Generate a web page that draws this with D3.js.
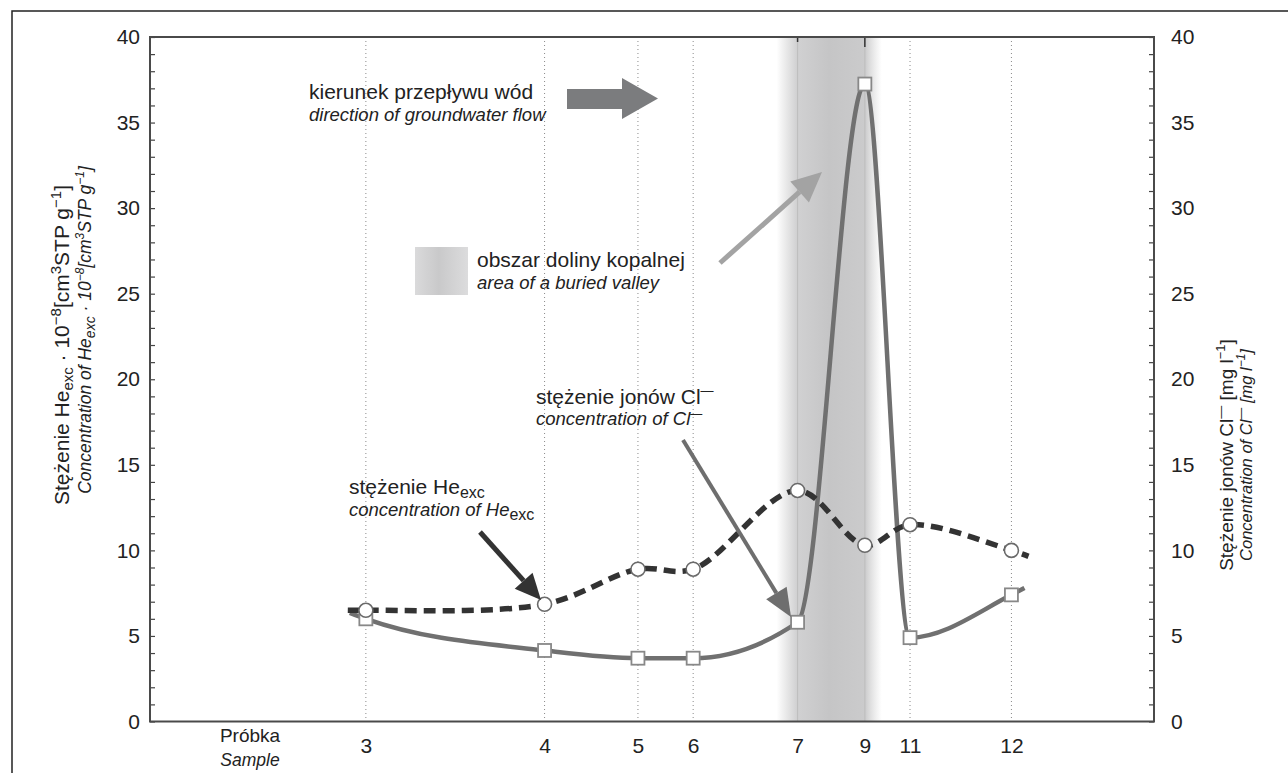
<!DOCTYPE html>
<html><head><meta charset="utf-8">
<script src="https://cdn.jsdelivr.net/npm/d3@7/dist/d3.min.js"></script>
<style>
body{margin:0;background:#fff;}
svg{display:block;}
text{font-family:"Liberation Sans",Arial,sans-serif;fill:#222;}
</style></head>
<body>
<svg id="chart" width="1288" height="773"></svg>
<script>
// ---- data ----
const samples = ["3","4","5","6","7","9","11","12"];
// relative distance of each sample along the profile (0–100)
const sampleDistance = [21.5, 39.3, 48.6, 54.1, 64.5, 71.2, 75.7, 85.8];
const heExc = [6.5, 6.85, 8.9, 8.9, 13.5, 10.3, 11.5, 10.0];
const chloride = [6.0, 4.15, 3.7, 3.7, 5.8, 37.25, 4.9, 7.4];
// curve run-in / run-out points [distance, value]
const heEnds = [[19.7, 6.5], [87.5, 9.65]];
const clEnds = [[19.9, 6.35], [87.1, 7.8]];
const yTicks = d3.range(0, 41, 1);
const valleyFrom = "7", valleyTo = "9";

// ---- layout ----
const svg = d3.select("#chart");
const L = 150, R = 1154, T = 37, B = 721.5;
const x = d3.scaleLinear().domain([0, 100]).range([L, R]);
const y = d3.scaleLinear().domain([0, 40]).range([B, T]);
const FONT = '"Liberation Sans",Arial,sans-serif';

const defs = svg.append("defs");
const g1 = defs.append("linearGradient").attr("id", "band").attr("x1", 0).attr("x2", 1).attr("y1", 0).attr("y2", 0);
[[0, "#d0d0d0", 0], [0.19, "#d1d1d2", 1], [0.5, "#c5c5c6", 1], [0.84, "#cbcbcc", 1], [1, "#d8d8d8", 0]]
  .forEach(s => g1.append("stop").attr("offset", s[0]).attr("stop-color", s[1]).attr("stop-opacity", s[2]));
const g2 = defs.append("linearGradient").attr("id", "leg").attr("x1", 0).attr("x2", 1).attr("y1", 0).attr("y2", 0);
[[0, "#dadadb"], [0.45, "#c9c9ca"], [1, "#dcdcdd"]]
  .forEach(s => g2.append("stop").attr("offset", s[0]).attr("stop-color", s[1]));

// outer frame
svg.append("path").attr("d", `M12,773 V11 H1288`).attr("fill", "none").attr("stroke", "#222").attr("stroke-width", 1.5);

// valley band
const i7 = samples.indexOf(valleyFrom), i9 = samples.indexOf(valleyTo);
const bx0 = x(sampleDistance[i7]) - 21, bx1 = x(sampleDistance[i9]) + 17;
svg.append("rect").attr("x", bx0).attr("y", T).attr("width", bx1 - bx0).attr("height", B - T).attr("fill", "url(#band)");

// sample gridlines
svg.append("g").selectAll("line").data(samples).join("line")
  .attr("x1", (d, i) => x(sampleDistance[i])).attr("x2", (d, i) => x(sampleDistance[i]))
  .attr("y1", T).attr("y2", B)
  .attr("stroke", d => (d === valleyFrom || d === valleyTo) ? "#bdbdbd" : "#8a8a8a")
  .attr("stroke-width", 1)
  .attr("stroke-dasharray", d => (d === valleyFrom || d === valleyTo) ? null : "1,3");

// top ticks at valley edges
svg.append("g").selectAll("line").data([[i7, 5], [i9, 10]]).join("line")
  .attr("x1", d => x(sampleDistance[d[0]])).attr("x2", d => x(sampleDistance[d[0]]))
  .attr("y1", T).attr("y2", d => T + d[1]).attr("stroke", "#333").attr("stroke-width", 1.5);

// axes
const fmt = d => d % 5 === 0 ? d : "";
const la = svg.append("g").attr("transform", `translate(${L},0)`)
  .call(d3.axisLeft(y).tickValues(yTicks).tickSizeInner(-5).tickSizeOuter(0).tickPadding(10).tickFormat(fmt));
const ra = svg.append("g").attr("transform", `translate(${R},0)`)
  .call(d3.axisRight(y).tickValues(yTicks).tickSizeInner(-5).tickSizeOuter(0).tickPadding(17).tickFormat(fmt));
[la, ra].forEach(a => {
  a.select(".domain").remove();
  a.selectAll(".tick line").attr("stroke", "#444").attr("stroke-width", 1.2);
  a.selectAll(".tick text").attr("font-size", 21).attr("fill", "#222").style("font-family", FONT);
});
const ba = svg.append("g").attr("transform", `translate(0,${B})`)
  .call(d3.axisBottom(x).tickValues(sampleDistance).tickSize(0).tickPadding(17).tickFormat((d, i) => samples[i]));
ba.select(".domain").remove();
ba.selectAll(".tick text").attr("font-size", 21).attr("fill", "#222").style("font-family", FONT);

// plot frame
svg.append("rect").attr("x", L).attr("y", T).attr("width", R - L).attr("height", B - T)
  .attr("fill", "none").attr("stroke", "#4a4a4a").attr("stroke-width", 2);

// lines
const clPts = [clEnds[0], ...sampleDistance.map((d, i) => [d, chloride[i]]), clEnds[1]];
const hePts = [heEnds[0], ...sampleDistance.map((d, i) => [d, heExc[i]]), heEnds[1]];
const lineCl = d3.line().x(d => x(d[0])).y(d => y(d[1])).curve(d3.curveMonotoneX);
const lineHe = d3.line().x(d => x(d[0])).y(d => y(d[1])).curve(d3.curveCatmullRom.alpha(0.5));
svg.append("path").attr("d", lineCl(clPts)).attr("fill", "none").attr("stroke", "#707070").attr("stroke-width", 4.5);
svg.append("path").attr("d", lineHe(hePts)).attr("fill", "none").attr("stroke", "#333").attr("stroke-width", 5.5)
  .attr("stroke-dasharray", "12,7");

// markers
svg.append("g").selectAll("rect").data(chloride).join("rect")
  .attr("x", (d, i) => x(sampleDistance[i]) - 6.5).attr("y", d => y(d) - 6.5)
  .attr("width", 13).attr("height", 13).attr("fill", "#fff").attr("stroke", "#888").attr("stroke-width", 1.8);
svg.append("g").selectAll("circle").data(heExc).join("circle")
  .attr("cx", (d, i) => x(sampleDistance[i])).attr("cy", d => y(d)).attr("r", 7)
  .attr("fill", "#fff").attr("stroke", "#6a6a6a").attr("stroke-width", 1.6);

// arrows
function arrow(x1, y1, x2, y2, color, w, hl, hw) {
  const a = Math.atan2(y2 - y1, x2 - x1);
  const bx = x2 - hl * Math.cos(a), by = y2 - hl * Math.sin(a);
  svg.append("line").attr("x1", x1).attr("y1", y1).attr("x2", bx).attr("y2", by)
    .attr("stroke", color).attr("stroke-width", w);
  const px = -Math.sin(a) * hw, py = Math.cos(a) * hw;
  svg.append("path").attr("d", `M${x2},${y2}L${bx + px},${by + py}L${bx - px},${by - py}Z`).attr("fill", color);
}
arrow(720, 263, 822, 172, "#a3a3a3", 5, 30, 14);
arrow(683, 440, 791, 617, "#6e6e6e", 4, 28, 12);
arrow(480, 532, 541, 600, "#333", 5, 26, 12);
// block arrow (flow direction)
svg.append("path").attr("d", "M567,89 H622 V78 L658,98.5 L622,119 V109 H567 Z").attr("fill", "#7b7c7e");

// legend square
svg.append("rect").attr("x", 415).attr("y", 247).attr("width", 53).attr("height", 48).attr("fill", "url(#leg)");

// texts
function txt(xp, yp, size, italic) {
  const t = svg.append("text").attr("x", xp).attr("y", yp).attr("font-size", size);
  if (italic) t.attr("font-style", "italic");
  return t;
}
txt(309, 99, 21).text("kierunek przepływu wód");
txt(309, 121, 18.5, true).text("direction of groundwater flow");
txt(477, 267, 21).text("obszar doliny kopalnej");
txt(477, 289, 18.5, true).text("area of a buried valley");

let t = txt(536, 404, 21); t.append("tspan").text("stężenie jonów Cl"); t.append("tspan").attr("dy", -9).attr("font-size", 13).text("—");
t = txt(536, 425, 18.5, true); t.append("tspan").text("concentration of Cl"); t.append("tspan").attr("dy", -7).attr("font-size", 12).text("—");
t = txt(349, 494, 21); t.append("tspan").text("stężenie He"); t.append("tspan").attr("dy", 4).attr("font-size", 16).text("exc");
t = txt(349, 516, 18.5, true); t.append("tspan").text("concentration of He"); t.append("tspan").attr("dy", 4).attr("font-size", 16).attr("font-style", "normal").text("exc");

txt(250, 742, 19).attr("text-anchor", "middle").text("Próbka");
txt(250, 766, 17.5, true).attr("text-anchor", "middle").text("Sample");

// axis titles
function parts(tx, arr) {
  arr.forEach(p => {
    const s = tx.append("tspan").text(p[0]);
    if (p[1]) s.attr("dy", p[1]);
    if (p[2]) s.attr("font-size", p[2]);
  });
}
let lt = svg.append("text").attr("transform", "translate(69,345) rotate(-90)").attr("text-anchor", "middle").attr("font-size", 21);
parts(lt, [["Stężenie He"], ["exc", 4, 15], [" · 10", -4], ["−8", -8, 15], ["[cm", 8], ["3", -8, 15], ["STP g", 8], ["−1", -8, 15], ["]", 8]]);
let lt2 = svg.append("text").attr("transform", "translate(91,330) rotate(-90)").attr("text-anchor", "middle").attr("font-size", 17.5).attr("font-style", "italic");
parts(lt2, [["Concentration of He"], ["exc", 4, 14], [" · 10", -4], ["−8", -7, 12], ["[cm", 7], ["3", -7, 12], ["STP g", 7], ["−1", -7, 12], ["]", 7]]);

let rt = svg.append("text").attr("transform", "translate(1233,455) rotate(-90)").attr("text-anchor", "middle").attr("font-size", 19);
parts(rt, [["Stężenie jonów Cl"], ["—", -8, 13], [" [mg l", 8], ["−1", -8, 13], ["]", 8]]);
let rt2 = svg.append("text").attr("transform", "translate(1252,455) rotate(-90)").attr("text-anchor", "middle").attr("font-size", 16.5).attr("font-style", "italic");
parts(rt2, [["Concentration of Cl"], ["—", -7, 12], ["  [mg l", 7], ["−1", -7, 12], ["]", 7]]);
</script>
</body></html>
